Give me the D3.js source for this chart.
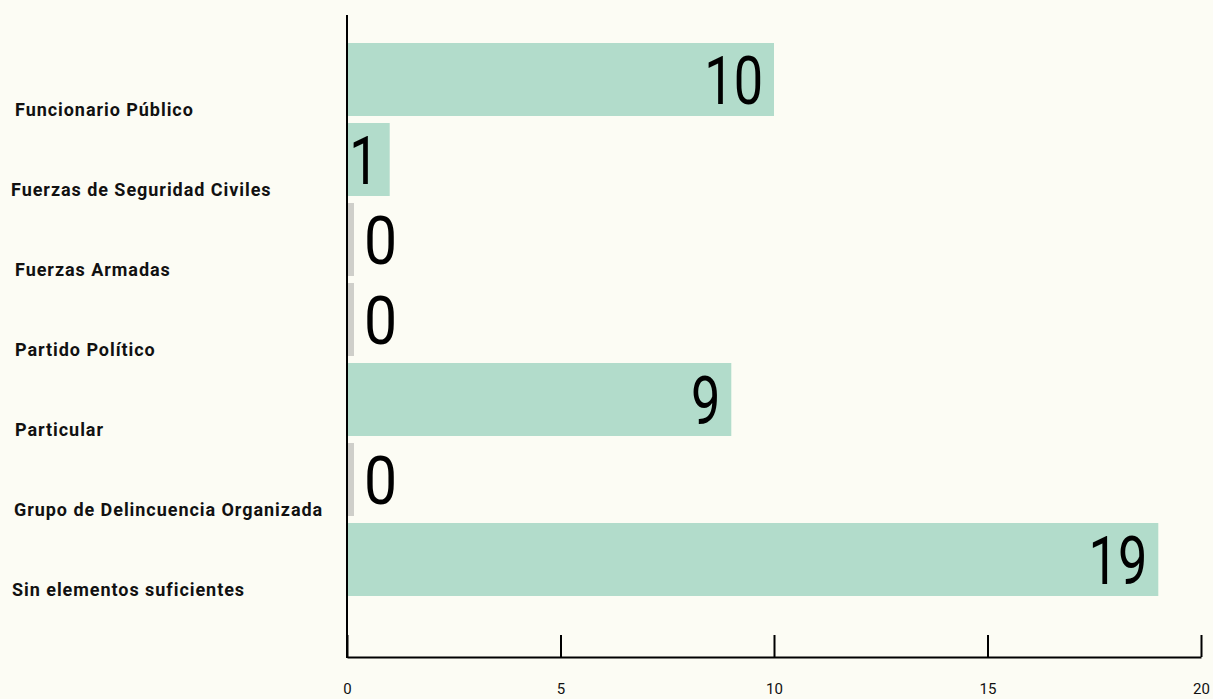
<!DOCTYPE html>
<html><head><meta charset="utf-8">
<script src="https://cdn.jsdelivr.net/npm/d3@7"></script>
<style>
html,body{margin:0;padding:0;background:#fcfcf4;}
svg{display:block;}
</style></head>
<body>
<svg id="chart" width="1213" height="699"></svg>
<script>
const categories = ["Funcionario Público","Fuerzas de Seguridad Civiles","Fuerzas Armadas","Partido Político","Particular","Grupo de Delincuencia Organizada","Sin elementos suficientes"];
const values = [10, 1, 0, 0, 9, 0, 19];
const tickValues = [0, 5, 10, 15, 20];

const svg = d3.select("#chart");
const W = 1213, H = 699;
svg.append("rect").attr("width", W).attr("height", H).attr("fill", "#fcfcf4");

const x = d3.scaleLinear().domain([0, 20]).range([347, 1201]);
const y = d3.scaleBand().domain(categories).range([39.5, 599.5]).paddingInner(0.0875).paddingOuter(0.04375);
const axisY = 657;

// bars
svg.append("g").selectAll("rect").data(categories).join("rect")
  .attr("x", x(0))
  .attr("y", d => y(d))
  .attr("height", y.bandwidth())
  .attr("width", (d, i) => values[i] === 0 ? 7 : x(values[i]) - x(0))
  .attr("fill", (d, i) => values[i] === 0 ? "#cfcfca" : "#b2dccb");

// value labels (horizontally condensed)
const vl = svg.append("g");
categories.forEach((c, i) => {
  const v = values[i];
  const cy = y(c) + y.bandwidth() / 2;
  const zero = v === 0;
  const px = zero ? x(0) + 17 : x(v) - 11;
  vl.append("g").attr("transform", `translate(${px},${cy + 24}) scale(${zero ? 0.88 : 0.78},1)`)
    .append("text")
    .attr("text-anchor", zero ? "start" : "end")
    .attr("font-family", "Roboto, sans-serif")
    .attr("font-weight", 400)
    .attr("font-size", 67)
    .attr("fill", "#000")
    .text(v);
});

// category labels
svg.append("g").selectAll("text").data(categories).join("text")
  .attr("x", (d, i) => [15, 11, 15, 15, 15, 14, 12][i])
  .attr("y", d => y(d) + y.bandwidth() / 2 + 36)
  .attr("font-family", "Roboto, sans-serif")
  .attr("font-weight", 700)
  .attr("font-size", 18)
  .attr("letter-spacing", 0.95)
  .attr("fill", "#111")
  .text(d => d);

// x axis
const gx = svg.append("g").attr("transform", `translate(0,${axisY})`)
  .call(d3.axisBottom(x).tickValues(tickValues).tickSizeInner(-22).tickSizeOuter(0).tickPadding(26));
gx.select(".domain").attr("stroke", "#000").attr("stroke-width", 2);
gx.selectAll(".tick line").attr("stroke", "#000").attr("stroke-width", 2);
gx.selectAll(".tick text").attr("font-family", "Roboto, sans-serif").attr("font-size", 15).attr("fill", "#111");

// y axis line
svg.append("line").attr("x1", x(0)).attr("x2", x(0)).attr("y1", 15).attr("y2", axisY + 1)
  .attr("stroke", "#000").attr("stroke-width", 2);
</script>
</body></html>
